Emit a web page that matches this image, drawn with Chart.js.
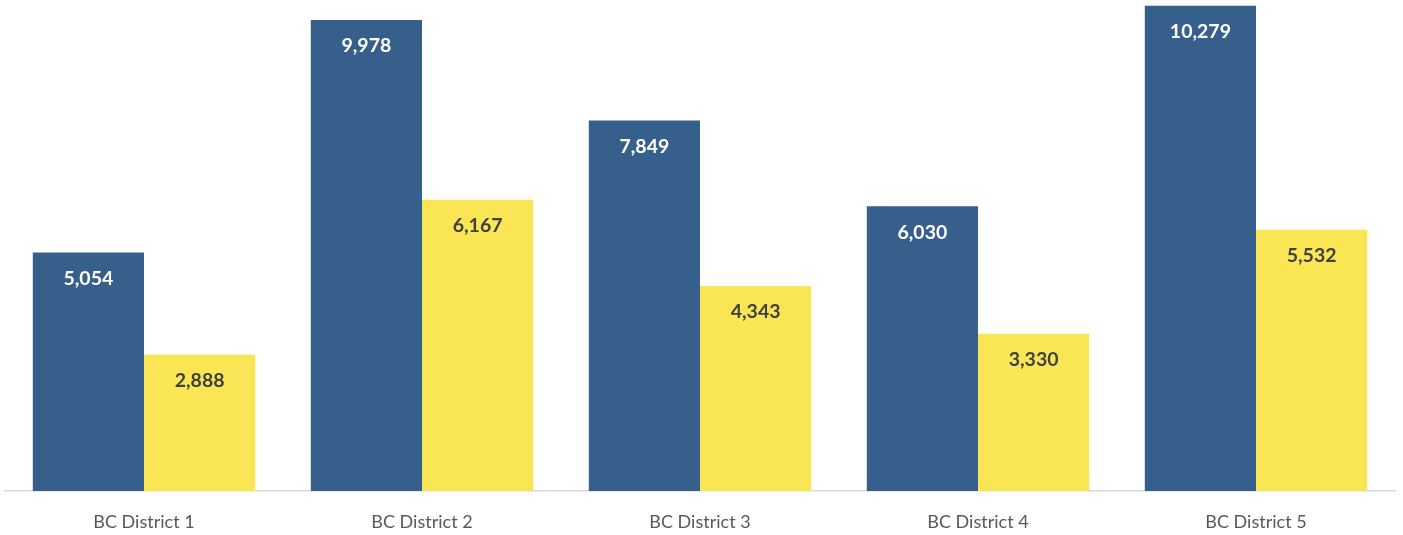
<!DOCTYPE html>
<html>
<head>
<meta charset="utf-8">
<script src="https://cdn.jsdelivr.net/npm/chart.js@4"></script>
<style>
  html, body { margin: 0; padding: 0; background: #fff; }
  #wrap { width: 1403px; height: 535px; }
</style>
</head>
<body>
<div id="wrap"><canvas id="myChart"></canvas></div>
<script>
const categories = ['BC District 1', 'BC District 2', 'BC District 3', 'BC District 4', 'BC District 5'];
const seriesA = [5054, 9978, 7849, 6030, 10279];
const seriesB = [2888, 6167, 4343, 3330, 5532];

// draw the value inside the top of each bar
const barLabels = {
  id: 'barLabels',
  afterDatasetsDraw(chart) {
    const ctx = chart.ctx;
    ctx.save();
    ctx.font = 'bold 19.5px Lato, "Open Sans", sans-serif';
    ctx.textAlign = 'center';
    ctx.textBaseline = 'middle';
    chart.data.datasets.forEach((ds, i) => {
      const meta = chart.getDatasetMeta(i);
      ctx.fillStyle = i === 0 ? '#ffffff' : '#404040';
      meta.data.forEach((bar, j) => {
        ctx.fillText(ds.data[j].toLocaleString('en-US'), bar.x, bar.y + 26);
      });
    });
    ctx.restore();
  }
};

new Chart(document.getElementById('myChart'), {
  type: 'bar',
  data: {
    labels: categories,
    datasets: [
      { label: 'A', data: seriesA, backgroundColor: '#375f8c' },
      { label: 'B', data: seriesB, backgroundColor: '#fae655' }
    ]
  },
  options: {
    responsive: true,
    maintainAspectRatio: false,
    animation: false,
    layout: { padding: { left: 5, right: 8, top: 0, bottom: 0 } },
    datasets: { bar: { categoryPercentage: 0.8, barPercentage: 1.0 } },
    plugins: {
      legend: { display: false },
      tooltip: { enabled: false }
    },
    scales: {
      x: {
        grid: { display: false },
        border: { color: '#d9d9d9', width: 1.5 },
        ticks: { color: '#595959', font: { family: 'Lato, "Open Sans", sans-serif', size: 18 }, padding: 12 },
        afterFit(scale) { scale.height = 44; }
      },
      y: {
        display: false,
        min: 0,
        max: 10400
      }
    }
  },
  plugins: [barLabels]
});
</script>
</body>
</html>
